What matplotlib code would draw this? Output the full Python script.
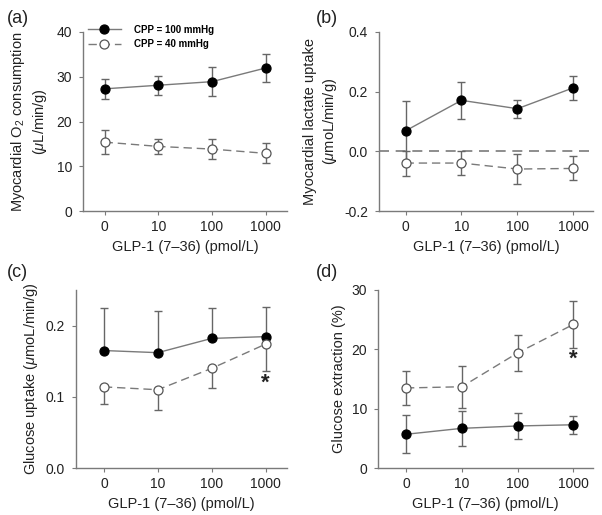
import matplotlib
matplotlib.use("Agg")
import matplotlib.pyplot as plt
import numpy as np

plt.rcParams["font.family"] = ["Liberation Sans", "DejaVu Sans"]
plt.rcParams["mathtext.fontset"] = "custom"
plt.rcParams["mathtext.rm"] = "Liberation Sans"
plt.rcParams["mathtext.it"] = "Liberation Sans:italic"

DOSES = ["0", "10", "100", "1000"]

# (a) myocardial O2 consumption
o2_100 = [27.3, 28.1, 28.9, 31.95]
o2_100_err = [2.3, 2.15, 3.25, 3.1]
o2_40 = [15.4, 14.45, 13.85, 12.9]
o2_40_err = [2.65, 1.65, 2.2, 2.2]

# (b) myocardial lactate uptake
lac_100 = [0.069, 0.171, 0.143, 0.213]
lac_100_err = [0.10, 0.061, 0.030, 0.040]
lac_40 = [-0.039, -0.039, -0.059, -0.057]
lac_40_err = [0.042, 0.040, 0.051, 0.040]

# (c) glucose uptake (one-sided error bars)
glu_100 = [0.165, 0.162, 0.182, 0.1845]
glu_100_err = [0.060, 0.058, 0.042, 0.041]
glu_40 = [0.114, 0.110, 0.140, 0.174]
glu_40_err = [0.024, 0.029, 0.028, 0.038]

# (d) glucose extraction
ext_100 = [5.7, 6.7, 7.1, 7.3]
ext_100_err = [3.2, 2.9, 2.25, 1.55]
ext_40 = [13.5, 13.7, 19.4, 24.2]
ext_40_err = [2.8, 3.55, 3.05, 3.95]

GRAY = "#7a7a7a"
TEXT = "#222222"
XLABEL = "GLP-1 (7\u201336) (pmol/L)"


def _series(ax, y, err, filled, lolims=None):
    x = np.arange(len(DOSES))
    err = np.asarray(err)
    if lolims is None:
        yerr = err
    elif lolims:
        yerr = [np.zeros_like(err), err]
    else:
        yerr = [err, np.zeros_like(err)]
    ax.errorbar(x, y, yerr=yerr, fmt="none", ecolor="#666666", elinewidth=1.0,
                capsize=2.6, capthick=1.0, zorder=2)
    style = "-" if filled else (0, (6, 3.5))
    line, = ax.plot(x, y, linestyle=style, color=GRAY, linewidth=1.0,
                    marker="o", markersize=6.5,
                    markerfacecolor="black" if filled else "white",
                    markeredgecolor="black" if filled else "#555555",
                    markeredgewidth=0.9, zorder=3 if filled else 4)
    return line


def _style(ax, ylim, yticks, yticklabels, xlim=(-0.4, 3.4)):
    ax.set_xlim(*xlim)
    ax.set_ylim(*ylim)
    ax.set_xticks(np.arange(len(DOSES)))
    ax.set_xticklabels(DOSES)
    ax.set_yticks(yticks)
    ax.set_yticklabels(yticklabels)
    for side in ("top", "right"):
        ax.spines[side].set_visible(False)
    for side in ("left", "bottom"):
        ax.spines[side].set_color(GRAY)
        ax.spines[side].set_linewidth(1.0)
    ax.tick_params(colors=GRAY, labelcolor=TEXT, labelsize=10, length=3, width=0.8)
    ax.tick_params(axis="y", pad=5)
    ax.set_xlabel(XLABEL, fontsize=10.5, color=TEXT, labelpad=4)


fig = plt.figure(figsize=(6.02, 5.15), dpi=100)
ax_a = fig.add_axes([0.138, 0.590, 0.339, 0.348])
ax_b = fig.add_axes([0.630, 0.590, 0.355, 0.348])
ax_c = fig.add_axes([0.126, 0.091, 0.351, 0.346])
ax_d = fig.add_axes([0.628, 0.091, 0.357, 0.346])

# (a)
h100 = _series(ax_a, o2_100, o2_100_err, True)
h40 = _series(ax_a, o2_40, o2_40_err, False)
_style(ax_a, (0, 40), [0, 10, 20, 30, 40], ["0", "10", "20", "30", "40"])
ax_a.set_ylabel("Myocardial O$_2$ consumption\n($\\mu$L/min/g)", fontsize=10.5,
                color=TEXT, linespacing=1.3, labelpad=5)
ax_a.legend([h100, h40], ["CPP = 100 mmHg", "CPP = 40 mmHg"], loc="upper left",
            bbox_to_anchor=(-0.02, 1.09), frameon=False, handlelength=3.4,
            prop={"size": 7, "weight": "bold"}, labelspacing=0.45, handletextpad=1.4)

# (b)
ax_b.axhline(0, color=GRAY, linewidth=1.2, linestyle=(0, (6, 4)), zorder=1)
_series(ax_b, lac_100, lac_100_err, True)
_series(ax_b, lac_40, lac_40_err, False)
_style(ax_b, (-0.2, 0.4), [-0.2, 0.0, 0.2, 0.4], ["-0.2", "0.0", "0.2", "0.4"],
       xlim=(-0.47, 3.35))
ax_b.set_ylabel("Myocardial lactate uptake\n($\\mu$moL/min/g)", fontsize=10.5,
                color=TEXT, linespacing=1.3)

# (c)
_series(ax_c, glu_100, glu_100_err, True, lolims=True)
_series(ax_c, glu_40, glu_40_err, False, lolims=False)
_style(ax_c, (0, 0.25), [0.0, 0.1, 0.2], ["0.0", "0.1", "0.2"], xlim=(-0.52, 3.4))
ax_c.set_ylabel("Glucose uptake ($\\mu$moL/min/g)", fontsize=10.5, color=TEXT)
ax_c.text(3, 0.119, "*", ha="center", va="center", fontsize=16, fontweight="bold",
          color=TEXT)

# (d)
_series(ax_d, ext_100, ext_100_err, True)
_series(ax_d, ext_40, ext_40_err, False)
_style(ax_d, (0, 30), [0, 10, 20, 30], ["0", "10", "20", "30"], xlim=(-0.5, 3.35))
ax_d.set_ylabel("Glucose extraction (%)", fontsize=10.5, color=TEXT)
ax_d.text(3, 18.4, "*", ha="center", va="center", fontsize=16, fontweight="bold",
          color=TEXT)

for label, (x, y) in zip(["(a)", "(b)", "(c)", "(d)"],
                         [(0.012, 0.98), (0.525, 0.98), (0.012, 0.487), (0.525, 0.487)]):
    fig.text(x, y, label, fontsize=13, color=TEXT, va="top", ha="left")

fig.savefig("out.png", dpi=100)
